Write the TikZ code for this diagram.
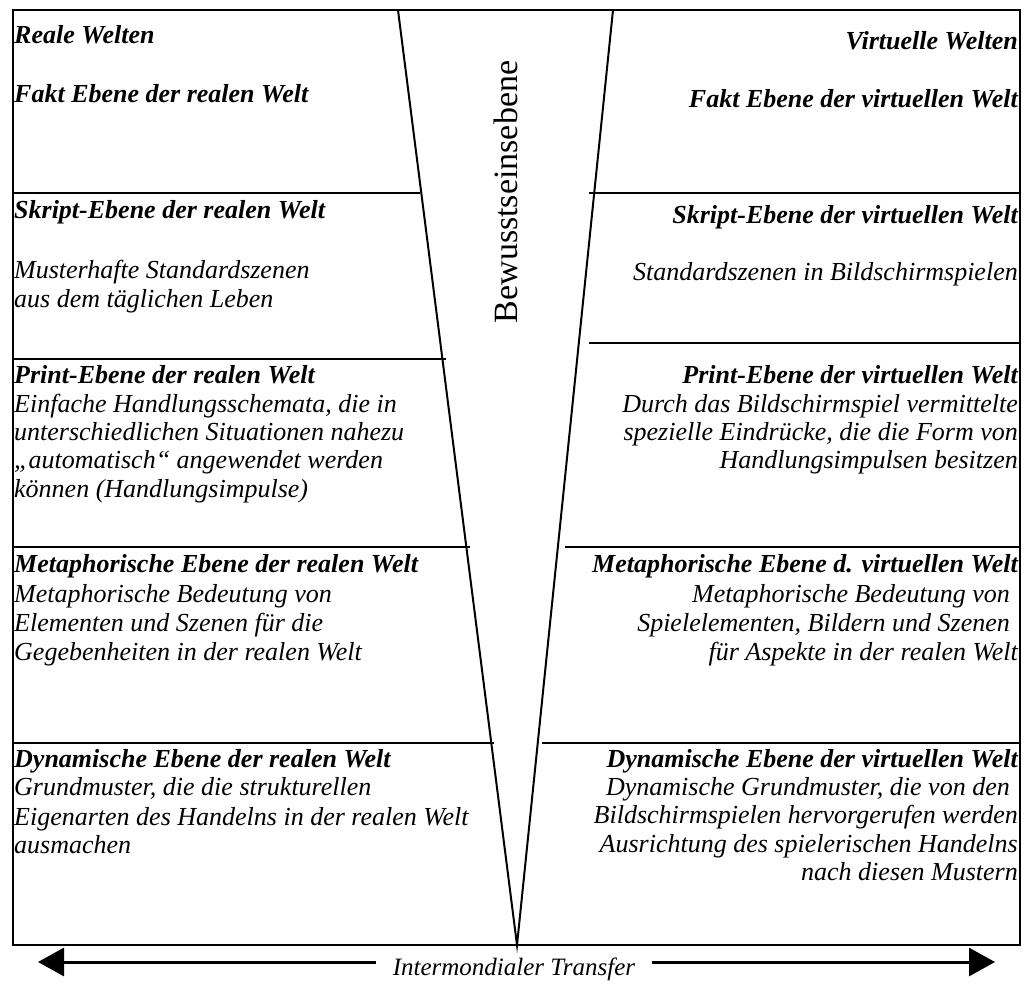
\documentclass[tikz,border=0pt]{standalone}
\usepackage{fontspec}
\setmainfont{Liberation Serif}
\usetikzlibrary{arrows.meta}
\newcommand\bodyfont{\fontsize{26}{28}\selectfont\itshape}
\newcommand\headfont{\fontsize{26}{28}\selectfont\bfseries\itshape}
\tikzset{
  frame/.style={line width=2pt},
  sepline/.style={line width=2.8pt},
  vline/.style={line width=2pt},
  lt/.style={anchor=base west, inner sep=0pt, font=\bodyfont},
  rt/.style={anchor=base east, inner sep=0pt, font=\bodyfont},
  lh/.style={anchor=base west, inner sep=0pt, font=\headfont},
  rh/.style={anchor=base east, inner sep=0pt, font=\headfont},
  xarrow/.style={line width=3pt, -{Triangle[length=26pt,width=28pt]}}
}
\begin{document}
\begin{tikzpicture}[x=1pt,y=-1pt]
\useasboundingbox (0,0) rectangle (1031,983);

% outer frame
\draw[frame] (13,10) rectangle (1020,945);

% the V of the awareness level
\coordinate (ltop) at (398,10);
\coordinate (rtop) at (613,10);
\coordinate (apex) at (517,945);
\draw[vline] (ltop) -- (apex) -- (rtop);

% level separators, left side
\draw[sepline] (13,193) -- (420,193);
\draw[sepline] (13,359) -- (446,359);
\draw[sepline] (13,547) -- (470,547);
\draw[sepline] (13,743) -- (494,743);
% level separators, right side
\draw[sepline] (589,193) -- (1020,193);
\draw[sepline] (589,343) -- (1020,343);
\draw[sepline] (565,547) -- (1020,547);
\draw[sepline] (542,743) -- (1020,743);

% vertical title
\node[rotate=90, anchor=base, inner sep=0pt, font=\fontsize{34}{40}\selectfont] (bew) at (517,192) {Bewusstseinsebene};

% left column: real worlds
\node[lh] (r1) at (14,43) {Reale Welten};
\node[lh] (r2) at (14,102) {Fakt Ebene der realen Welt};
\node[lh] (r3) at (14,218) {Skript-Ebene der realen Welt};
\node[lt] (r4) at (14,278) {Musterhafte Standardszenen};
\node[lt] (r5) at (14,307) {aus dem täglichen Leben};
\node[lh] (r6) at (14,383) {Print-Ebene der realen Welt};
\node[lt] (r7) at (14,412) {Einfache Handlungsschemata, die in};
\node[lt] (r8) at (14,440) {unterschiedlichen Situationen nahezu};
\node[lt] (r9) at (14,468) {„automatisch“ angewendet werden};
\node[lt] (r10) at (14,497) {können (Handlungsimpulse)};
\node[lh] (r11) at (14,572) {Metaphorische Ebene der realen Welt};
\node[lt] (r12) at (14,602) {Metaphorische Bedeutung von};
\node[lt] (r13) at (14,631) {Elementen und Szenen für die};
\node[lt] (r14) at (14,660) {Gegebenheiten in der realen Welt};
\node[lh] (r15) at (14,767) {Dynamische Ebene der realen Welt};
\node[lt] (r16) at (14,795) {Grundmuster, die die strukturellen};
\node[lt] (r17) at (14,825) {Eigenarten des Handelns in der realen Welt};
\node[lt] (r18) at (14,853) {ausmachen};

% right column: virtual worlds
\node[rh] (v1) at (1018,49) {Virtuelle Welten};
\node[rh] (v2) at (1018,107) {Fakt Ebene der virtuellen Welt};
\node[rh] (v3) at (1018,223) {Skript-Ebene der virtuellen Welt};
\node[rt] (v4) at (1018,280) {Standardszenen in Bildschirmspielen};
\node[rh] (v5) at (1018,383) {Print-Ebene der virtuellen Welt};
\node[rt] (v6) at (1018,412) {Durch das Bildschirmspiel vermittelte};
\node[rt] (v7) at (1018,440) {spezielle Eindrücke, die die Form von};
\node[rt] (v8) at (1018,468) {Handlungsimpulsen besitzen};
\node[rh] (v9) at (1018,572) {Metaphorische Ebene d. virtuellen Welt};
\node[rt] (v10) at (1010,602) {Metaphorische Bedeutung von};
\node[rt] (v11) at (1010,631) {Spielelementen, Bildern und Szenen};
\node[rt] (v12) at (1018,660) {für Aspekte in der realen Welt};
\node[rh] (v13) at (1018,767) {Dynamische Ebene der virtuellen Welt};
\node[rt] (v14) at (1010,795) {Dynamische Grundmuster, die von den};
\node[rt] (v15) at (1018,823) {Bildschirmspielen hervorgerufen werden};
\node[rt] (v16) at (1018,852) {Ausrichtung des spielerischen Handelns};
\node[rt] (v17) at (1018,880) {nach diesen Mustern};

% transfer arrow
\node[anchor=base, inner ysep=0pt, inner xsep=17pt, font=\fontsize{25}{30}\selectfont\itshape] (xfer) at (514,975) {Intermondialer Transfer};
\coordinate (ltip) at (38,962);
\coordinate (rtip) at (995,962);
\draw[xarrow] (xfer.west |- ltip) -- (ltip);
\draw[xarrow] (xfer.east |- rtip) -- (rtip);
\end{tikzpicture}
\end{document}
